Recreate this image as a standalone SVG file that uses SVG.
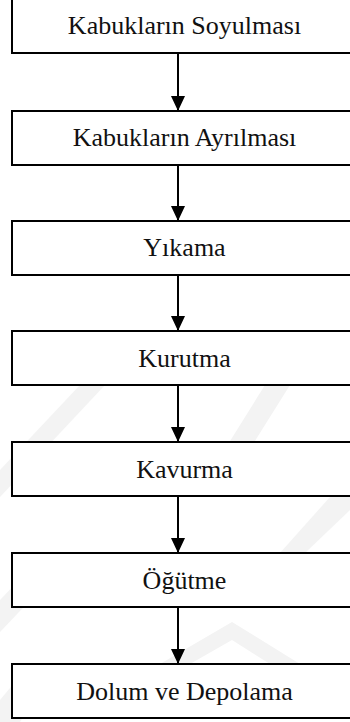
<svg xmlns="http://www.w3.org/2000/svg" width="350" height="722" viewBox="0 0 350 722">
  <style>
    .box { fill: #ffffff; stroke: #000000; stroke-width: 2; }
    .conn { stroke: #000000; stroke-width: 2; fill: none; }
    .wm { fill: #f3f3f3; }
  </style>
  <defs>
    <marker id="arrow" viewBox="0 0 15 14" refX="15" refY="7" markerWidth="15" markerHeight="14" markerUnits="userSpaceOnUse" orient="auto">
      <path d="M0,0 L15,7 L0,14 Z" fill="#000000"/>
    </marker>
  </defs>
  <rect x="0" y="0" width="350" height="722" fill="#ffffff"/>
  <g id="watermark">
    <polygon class="wm" points="0,470 80,385 105,385 0,497"/>
    <polygon class="wm" points="195,497 265,385 290,385 220,497"/>
    <polygon class="wm" points="0,600 45,553 75,553 0,632"/>
    <polygon class="wm" points="280,553 330,497 350,497 350,510 305,553"/>
    <polygon class="wm" points="232,622 300,664 270,664 232,640 190,664 160,664"/>
    <polygon class="wm" points="0,700 30,664 55,664 20,722 0,722"/>
  </g>
  <g id="connectors">
    <line class="conn" x1="178" y1="53" x2="178" y2="111" marker-end="url(#arrow)"/>
    <line class="conn" x1="178" y1="165" x2="178" y2="221" marker-end="url(#arrow)"/>
    <line class="conn" x1="178" y1="275" x2="178" y2="331" marker-end="url(#arrow)"/>
    <line class="conn" x1="178" y1="385" x2="178" y2="442" marker-end="url(#arrow)"/>
    <line class="conn" x1="178" y1="496" x2="178" y2="553" marker-end="url(#arrow)"/>
    <line class="conn" x1="178" y1="607" x2="178" y2="664" marker-end="url(#arrow)"/>
  </g>
  <g font-family="Liberation Serif" font-size="26" fill="#111111" text-anchor="middle">
    <g id="n1"><rect class="box" x="12" y="-1" width="346" height="54"/><text x="184.5" y="34">Kabukların Soyulması</text></g>
    <g id="n2"><rect class="box" x="12" y="111" width="346" height="54"/><text x="184.5" y="146">Kabukların Ayrılması</text></g>
    <g id="n3"><rect class="box" x="12" y="221" width="346" height="54"/><text x="184.5" y="256">Yıkama</text></g>
    <g id="n4"><rect class="box" x="12" y="331" width="346" height="54"/><text x="184.5" y="367">Kurutma</text></g>
    <g id="n5"><rect class="box" x="12" y="442" width="346" height="54"/><text x="184.5" y="478">Kavurma</text></g>
    <g id="n6"><rect class="box" x="12" y="553" width="346" height="54"/><text x="184.5" y="589">Öğütme</text></g>
    <g id="n7"><rect class="box" x="12" y="664" width="346" height="54"/><text x="184.5" y="700">Dolum ve Depolama</text></g>
  </g>
</svg>
